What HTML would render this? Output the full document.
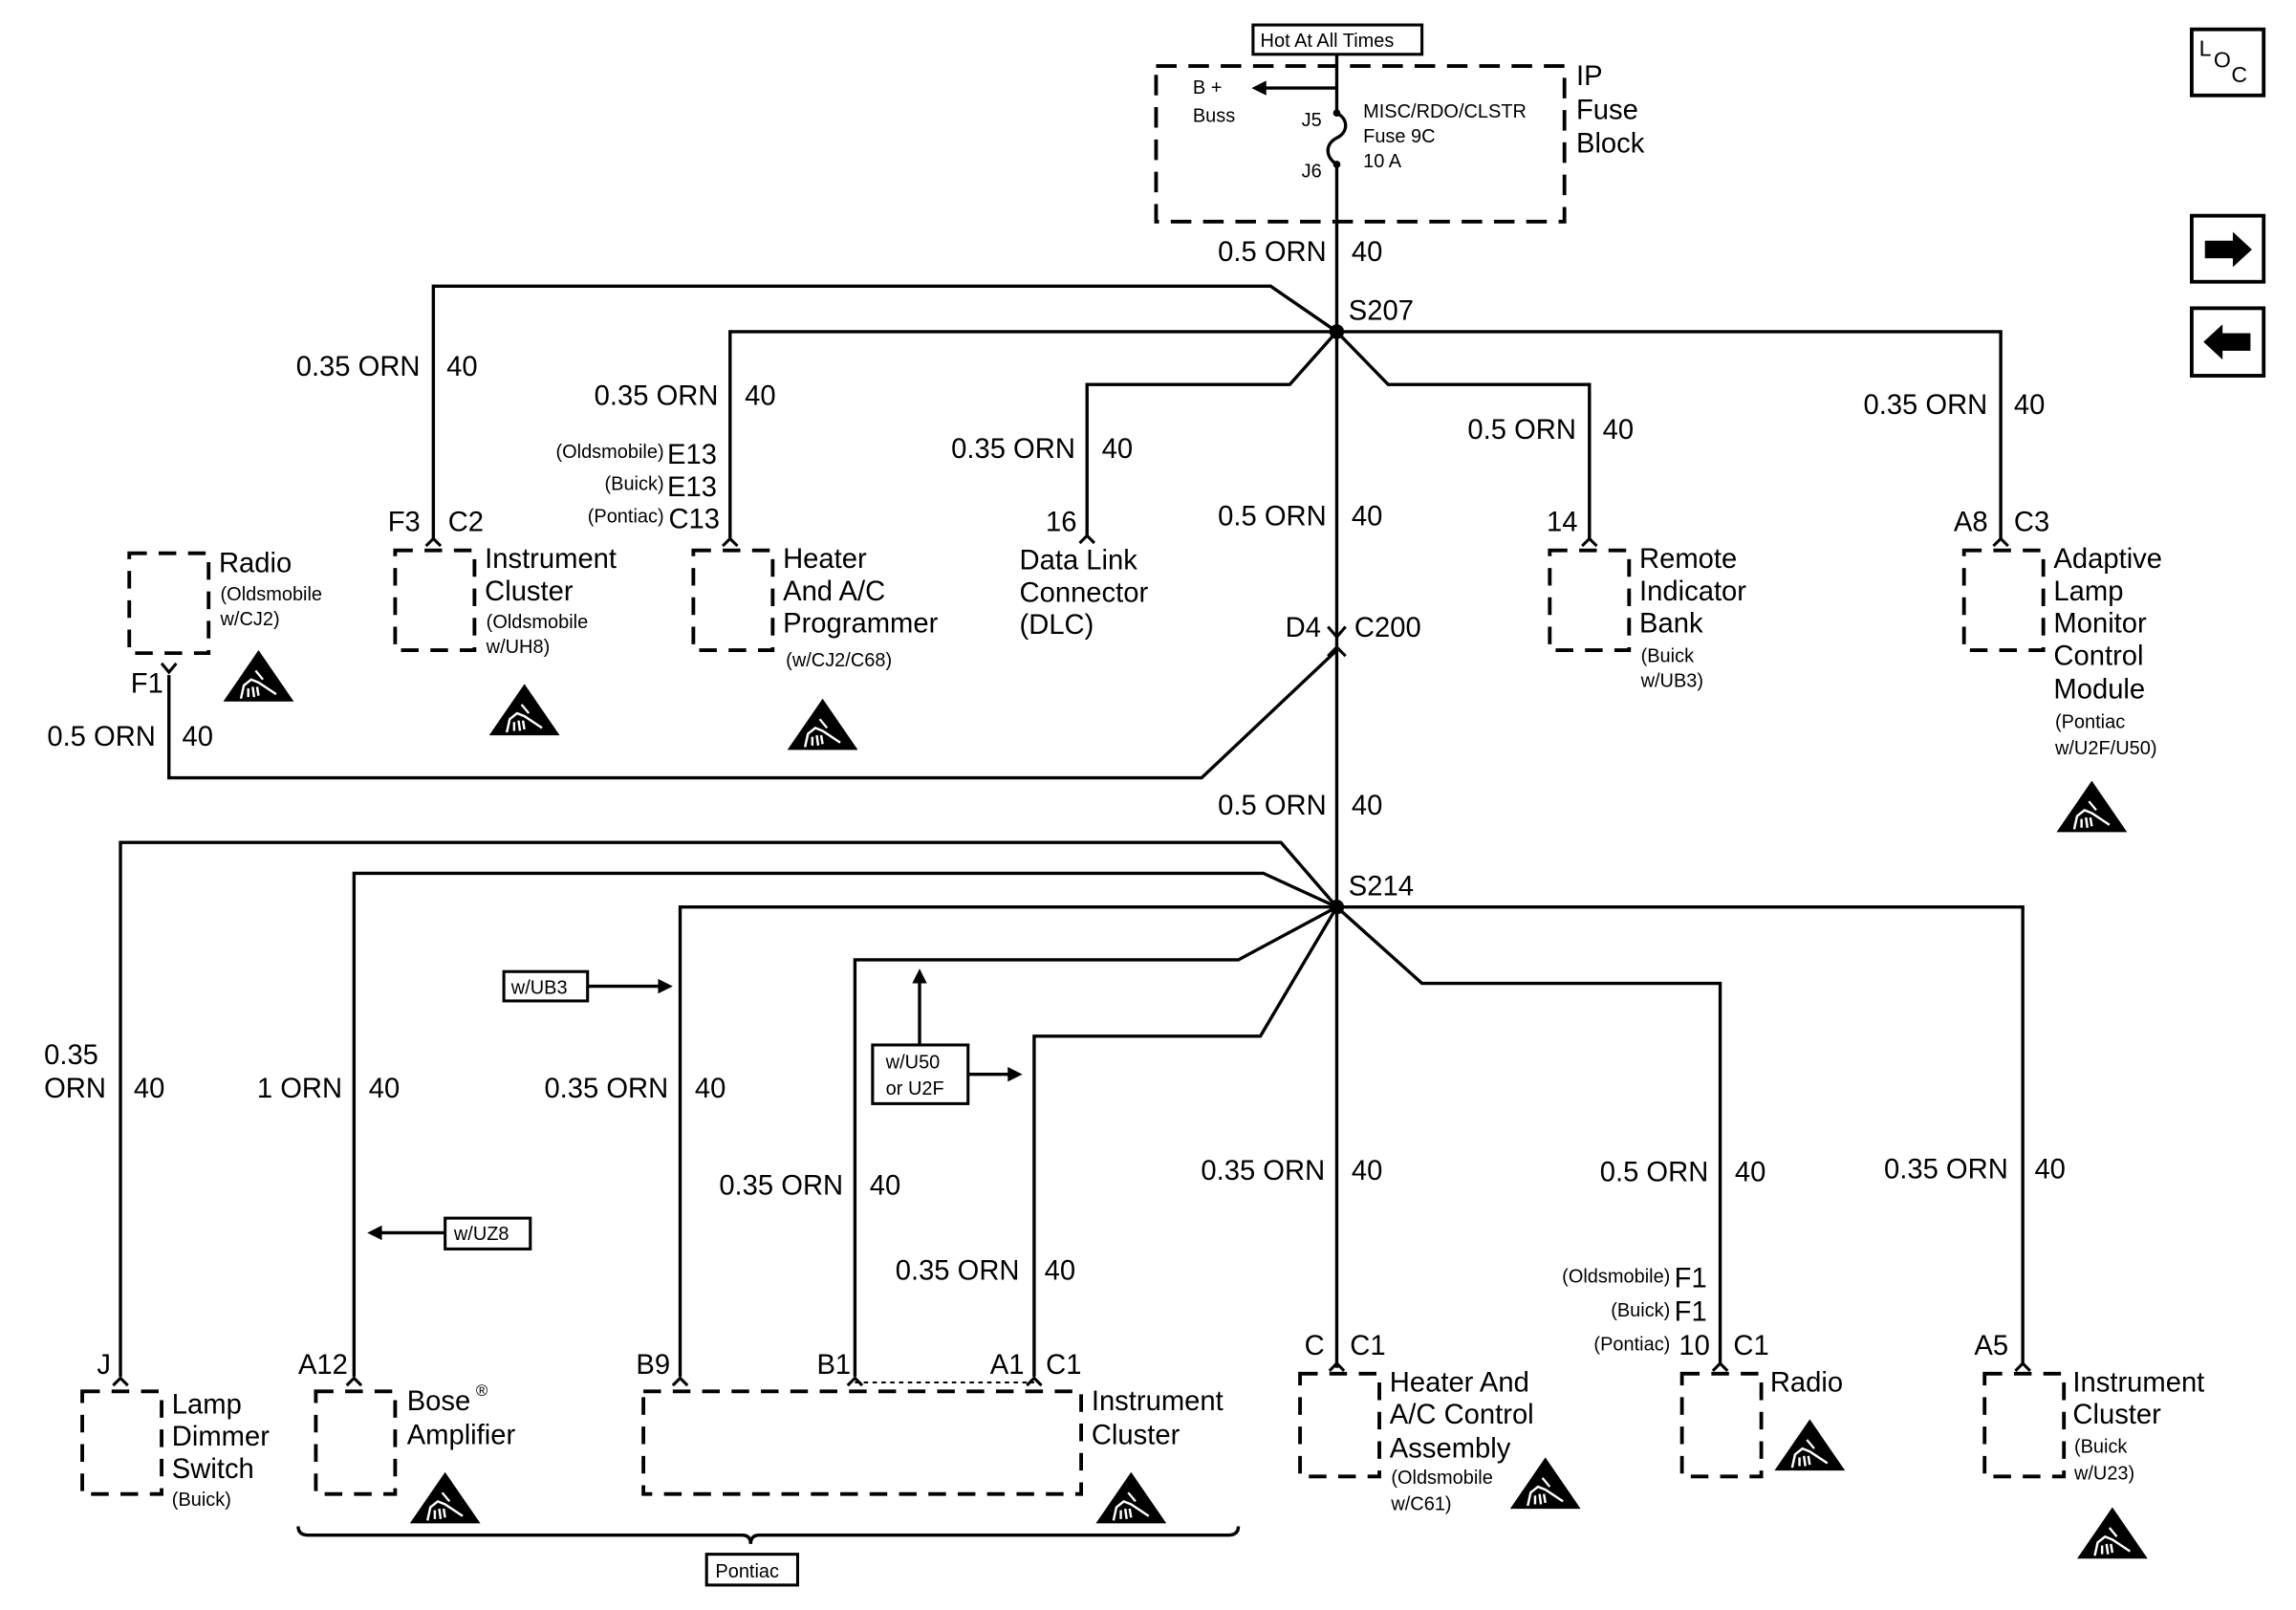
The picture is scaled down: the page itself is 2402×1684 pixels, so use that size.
<!DOCTYPE html>
<html><head><meta charset="utf-8"><style>
html,body{margin:0;padding:0;background:#fff;}
svg{display:block;}
text{font-family:"Liberation Sans",Arial,sans-serif;fill:#000;}
.w{font-size:19px;}
.s{font-size:13px;}
.m{font-size:15px;}
.c{font-size:19px;}
</style></head><body>
<svg width="2402" height="1684" viewBox="0 0 1563 1097" preserveAspectRatio="none" xmlns="http://www.w3.org/2000/svg">
<defs>
<g id="esd">
<path d="M0,35 L24,0 L48,35 Z" fill="#000"/>
<path d="M12,33 L14,24 L19,20 L24,22 L36,30 M17,26 L17,32 M20,25 L21,32 M23,25 L24,31" stroke="#fff" stroke-width="1.6" fill="none"/>
<path d="M22,14 L27,20" stroke="#fff" stroke-width="1.5"/>
</g>
<g id="ch"><path d="M-5,6 L0,1 L5,6" stroke="#000" stroke-width="2" fill="none"/></g>
</defs>
<g stroke="#000" stroke-width="2.2" fill="none">
<!-- fuse block -->
<rect x="853" y="17" width="115" height="20" stroke-width="2"/>
<rect x="787" y="45" width="278" height="106" stroke-dasharray="14,8" stroke-width="2.5"/>
<line x1="910" y1="37" x2="910" y2="77"/>
<line x1="910" y1="60" x2="860" y2="60"/>
<path d="M910,77 C918,81 918,90 910,94 C902,98 902,107 910,112"/>
<line x1="910" y1="112" x2="910" y2="932"/>
<!-- S207 branches -->
<path d="M910,226 L865,195 L295,195 L295,368"/>
<path d="M910,226 L497,226 L497,368"/>
<path d="M910,226 L878,262 L740,262 L740,366"/>
<path d="M910,226 L945,262 L1082,262 L1082,368"/>
<path d="M910,226 L1362,226 L1362,368"/>
<!-- C200 -->
<path d="M904,427 L910,434 L916,427" stroke-width="2"/>
<path d="M904,447 L910,441 L916,447" stroke-width="2"/>
<path d="M910,443 L818,530 L115,530 L115,460"/>
<!-- S214 -->
<path d="M910,618 L872,574 L82,574 L82,938"/>
<path d="M910,618 L860,595 L241,595 L241,938"/>
<path d="M910,618 L463,618 L463,938"/>
<path d="M910,618 L843,654 L582,654 L582,938"/>
<path d="M910,618 L858,706 L704,706 L704,938"/>
<path d="M910,618 L968,670 L1171,670 L1171,930"/>
<path d="M910,618 L1377,618 L1377,930"/>
<line x1="582" y1="942" x2="704" y2="942" stroke-dasharray="3,3" stroke-width="1.3"/>
<!-- component boxes -->
<g stroke-dasharray="12,8" stroke-width="2.5">
<rect x="88" y="377" width="54" height="68"/>
<rect x="269" y="375" width="54" height="68"/>
<rect x="472" y="375" width="54" height="68"/>
<rect x="1055" y="375" width="54" height="68"/>
<rect x="1337" y="375" width="54" height="68"/>
<rect x="56" y="948" width="54" height="70"/>
<rect x="215" y="948" width="54" height="70"/>
<rect x="438" y="948" width="298" height="70"/>
<rect x="885" y="936" width="54" height="70"/>
<rect x="1145" y="936" width="54" height="70"/>
<rect x="1351" y="936" width="54" height="70"/>
</g>
<!-- notes boxes -->
<rect x="343" y="662" width="57" height="20" stroke-width="2"/>
<line x1="400" y1="672" x2="450" y2="672"/>
<rect x="594" y="712" width="65" height="40" stroke-width="2"/>
<line x1="626" y1="712" x2="626" y2="668"/>
<line x1="659" y1="732" x2="688" y2="732"/>
<rect x="303" y="830" width="58" height="21" stroke-width="2"/>
<line x1="303" y1="840" x2="258" y2="840"/>
<rect x="481" y="1059" width="62" height="21" stroke-width="2"/>
<path d="M203,1040 Q203,1046 210,1046 L505,1046 Q511,1046 511,1052 Q511,1046 517,1046 L836,1046 Q843,1046 843,1040"/>
<!-- side icons -->
<rect x="1492" y="20" width="49" height="45" stroke-width="2.5"/>
<rect x="1492" y="147" width="49" height="45" stroke-width="2.5"/>
<rect x="1492" y="210" width="49" height="46" stroke-width="2.5"/>
</g>
<g fill="#000">
<circle cx="910" cy="226" r="5"/><circle cx="910" cy="618" r="5"/>
<circle cx="910" cy="77" r="2.5"/><circle cx="910" cy="112" r="2.5"/>
<path d="M852,60 L862,55 L862,65 Z"/>
<path d="M458,672 L448,667 L448,677 Z"/>
<path d="M626,660 L621,670 L631,670 Z"/>
<path d="M696,732 L686,727 L686,737 Z"/>
<path d="M250,840 L260,835 L260,845 Z"/>
<path d="M1501,164 L1520,164 L1520,158 L1533,170 L1520,182 L1520,176 L1501,176 Z"/>
<path d="M1532,227 L1513,227 L1513,221 L1500,233 L1513,245 L1513,239 L1532,239 Z"/>
</g>
<!-- connector chevrons -->
<use href="#ch" x="295" y="366"/><use href="#ch" x="497" y="366"/><use href="#ch" x="740" y="364"/>
<use href="#ch" x="1082" y="366"/><use href="#ch" x="1362" y="366"/>
<path d="M110,452 L115,458 L120,452" stroke="#000" stroke-width="2" fill="none"/>
<use href="#ch" x="82" y="938"/><use href="#ch" x="241" y="938"/><use href="#ch" x="463" y="938"/>
<use href="#ch" x="582" y="938"/><use href="#ch" x="704" y="938"/><use href="#ch" x="910" y="928"/>
<use href="#ch" x="1171" y="928"/><use href="#ch" x="1377" y="928"/>
<!-- ESD -->
<use href="#esd" x="152" y="443"/><use href="#esd" x="333" y="466"/><use href="#esd" x="536" y="476"/>
<use href="#esd" x="1400" y="532"/><use href="#esd" x="279" y="1003"/><use href="#esd" x="746" y="1003"/>
<use href="#esd" x="1028" y="993"/><use href="#esd" x="1208" y="967"/><use href="#esd" x="1414" y="1027"/>
<!-- texts -->
<text x="858" y="32" class="s">Hot At All Times</text>
<text x="812" y="64" class="s">B +</text><text x="812" y="83" class="s">Buss</text>
<text x="886" y="86" class="s">J5</text><text x="886" y="121" class="s">J6</text>
<text x="928" y="80" class="s">MISC/RDO/CLSTR</text><text x="928" y="97" class="s">Fuse 9C</text><text x="928" y="114" class="s">10 A</text>
<text x="1073" y="58" class="c">IP</text><text x="1073" y="81" class="c">Fuse</text><text x="1073" y="104" class="c">Block</text>
<text x="1497" y="38" class="m">L</text><text x="1507" y="46" class="m">O</text><text x="1519" y="56" class="m">C</text>
<g class="w">
<text x="903" y="178" text-anchor="end">0.5 ORN</text><text x="920" y="178">40</text>
<text x="918" y="218">S207</text>
<text x="286" y="256" text-anchor="end">0.35 ORN</text><text x="304" y="256">40</text>
<text x="489" y="276" text-anchor="end">0.35 ORN</text><text x="507" y="276">40</text>
<text x="732" y="312" text-anchor="end">0.35 ORN</text><text x="750" y="312">40</text>
<text x="1073" y="299" text-anchor="end">0.5 ORN</text><text x="1091" y="299">40</text>
<text x="1353" y="282" text-anchor="end">0.35 ORN</text><text x="1371" y="282">40</text>
<text x="903" y="358" text-anchor="end">0.5 ORN</text><text x="920" y="358">40</text>
<text x="903" y="555" text-anchor="end">0.5 ORN</text><text x="920" y="555">40</text>
<text x="918" y="610">S214</text>
<text x="875" y="434">D4</text><text x="922" y="434">C200</text>
<text x="106" y="508" text-anchor="end">0.5 ORN</text><text x="124" y="508">40</text>
<text x="264" y="362">F3</text><text x="305" y="362">C2</text>
<text x="488" y="316" text-anchor="end">E13</text><text x="488" y="338" text-anchor="end">E13</text><text x="490" y="360" text-anchor="end">C13</text>
<text x="733" y="362" text-anchor="end">16</text>
<text x="1074" y="362" text-anchor="end">14</text>
<text x="1330" y="362">A8</text><text x="1371" y="362">C3</text>
<text x="89" y="472">F1</text>
<text x="149" y="390">Radio</text>
<text x="330" y="387">Instrument</text><text x="330" y="409">Cluster</text>
<text x="533" y="387">Heater</text><text x="533" y="409">And A/C</text><text x="533" y="431">Programmer</text>
<text x="694" y="388">Data Link</text><text x="694" y="410">Connector</text><text x="694" y="432">(DLC)</text>
<text x="1116" y="387">Remote</text><text x="1116" y="409">Indicator</text><text x="1116" y="431">Bank</text>
<text x="1398" y="387">Adaptive</text><text x="1398" y="409">Lamp</text><text x="1398" y="431">Monitor</text><text x="1398" y="453">Control</text><text x="1398" y="476">Module</text>
<text x="30" y="725">0.35</text><text x="30" y="748">ORN</text><text x="91" y="748">40</text>
<text x="233" y="748" text-anchor="end">1 ORN</text><text x="251" y="748">40</text>
<text x="455" y="748" text-anchor="end">0.35 ORN</text><text x="473" y="748">40</text>
<text x="574" y="814" text-anchor="end">0.35 ORN</text><text x="592" y="814">40</text>
<text x="694" y="872" text-anchor="end">0.35 ORN</text><text x="711" y="872">40</text>
<text x="902" y="804" text-anchor="end">0.35 ORN</text><text x="920" y="804">40</text>
<text x="1163" y="805" text-anchor="end">0.5 ORN</text><text x="1181" y="805">40</text>
<text x="1367" y="803" text-anchor="end">0.35 ORN</text><text x="1385" y="803">40</text>
<text x="66" y="936">J</text><text x="203" y="936">A12</text><text x="433" y="936">B9</text>
<text x="556" y="936">B1</text><text x="674" y="936">A1</text><text x="712" y="936">C1</text>
<text x="888" y="923">C</text><text x="919" y="923">C1</text>
<text x="1162" y="877" text-anchor="end">F1</text><text x="1162" y="900" text-anchor="end">F1</text><text x="1164" y="923" text-anchor="end">10</text><text x="1180" y="923">C1</text>
<text x="1344" y="923">A5</text>
<text x="117" y="963">Lamp</text><text x="117" y="985">Dimmer</text><text x="117" y="1007">Switch</text>
<text x="277" y="961">Bose</text><text x="277" y="984">Amplifier</text>
<text x="743" y="961">Instrument</text><text x="743" y="984">Cluster</text>
<text x="946" y="948">Heater And</text><text x="946" y="970">A/C Control</text><text x="946" y="993">Assembly</text>
<text x="1205" y="948">Radio</text>
<text x="1411" y="948">Instrument</text><text x="1411" y="970">Cluster</text>
</g>
<text x="324" y="951" style="font-size:11px">®</text>
<g class="s">
<text x="150" y="409">(Oldsmobile</text><text x="150" y="426">w/CJ2)</text>
<text x="331" y="428">(Oldsmobile</text><text x="331" y="445">w/UH8)</text>
<text x="452" y="312" text-anchor="end">(Oldsmobile)</text><text x="452" y="334" text-anchor="end">(Buick)</text><text x="452" y="356" text-anchor="end">(Pontiac)</text>
<text x="535" y="454">(w/CJ2/C68)</text>
<text x="1117" y="451">(Buick</text><text x="1117" y="468">w/UB3)</text>
<text x="1399" y="496">(Pontiac</text><text x="1399" y="514">w/U2F/U50)</text>
<text x="348" y="677">w/UB3</text>
<text x="603" y="728">w/U50</text><text x="603" y="746">or U2F</text>
<text x="309" y="845">w/UZ8</text>
<text x="487" y="1075">Pontiac</text>
<text x="117" y="1026">(Buick)</text>
<text x="947" y="1011">(Oldsmobile</text><text x="947" y="1029">w/C61)</text>
<text x="1137" y="874" text-anchor="end">(Oldsmobile)</text><text x="1137" y="897" text-anchor="end">(Buick)</text><text x="1137" y="920" text-anchor="end">(Pontiac)</text>
<text x="1412" y="990">(Buick</text><text x="1412" y="1008">w/U23)</text>
</g>
</svg>
</body></html>
